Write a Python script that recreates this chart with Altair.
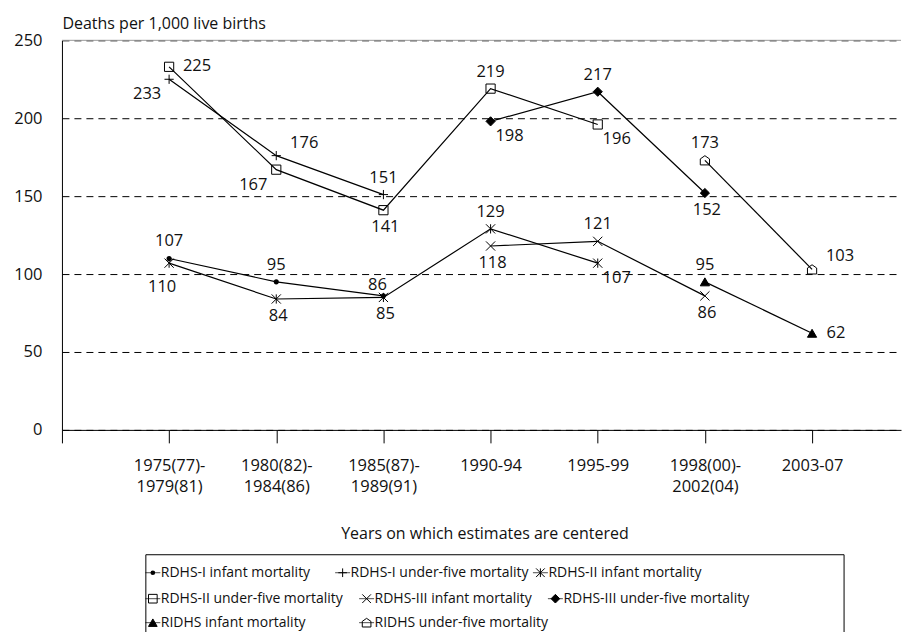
import json
import altair as alt
import pandas as pd

# ---------------- data ----------------
categories = [
    ["1975(77)-", "1979(81)"],
    ["1980(82)-", "1984(86)"],
    ["1985(87)-", "1989(91)"],
    ["1990-94"],
    ["1995-99"],
    ["1998(00)-", "2002(04)"],
    ["2003-07"],
]

series_names = [
    "RDHS-I infant mortality",
    "RDHS-I under-five mortality",
    "RDHS-II infant mortality",
    "RDHS-II under-five mortality",
    "RDHS-III infant mortality",
    "RDHS-III under-five mortality",
    "RIDHS infant mortality",
    "RIDHS under-five mortality",
]

rdhs1_infant = [110, 95, 86, None, None, None, None]
rdhs1_under5 = [225, 176, 151, None, None, None, None]
rdhs2_infant = [107, 84, 85, 129, 107, None, None]
rdhs2_under5 = [233, 167, 141, 219, 196, None, None]
rdhs3_infant = [None, None, None, 118, 121, 86, None]
rdhs3_under5 = [None, None, None, 198, 217, 152, None]
ridhs_infant = [None, None, None, None, None, 95, 62]
ridhs_under5 = [None, None, None, None, None, 173, 103]

# data labels as printed on the chart
rdhs1_infant_lbl = ["107", "95", "86", None, None, None, None]
rdhs1_under5_lbl = ["225", "176", "151", None, None, None, None]
rdhs2_infant_lbl = ["110", "84", "85", "129", "107", None, None]
rdhs2_under5_lbl = ["233", "167", "141", "219", "196", None, None]
rdhs3_infant_lbl = [None, None, None, "118", "121", "86", None]
rdhs3_under5_lbl = [None, None, None, "198", "217", "152", None]
ridhs_infant_lbl = [None, None, None, None, None, "95", "62"]
ridhs_under5_lbl = [None, None, None, None, None, "173", "103"]

# label placement keywords (annotation layout)
rdhs1_infant_pl = ["above", "above", "above_left", None, None, None, None]
rdhs1_under5_pl = ["above_right", "above_right", "above", None, None, None, None]
rdhs2_infant_pl = ["below_low", "below", "below", "above", "below_right", None, None]
rdhs2_under5_pl = ["below_left_low", "below_left", "below", "above", "below_right", None, None]
rdhs3_infant_pl = [None, None, None, "below", "above", "below", None]
rdhs3_under5_pl = [None, None, None, "below_right", "above", "below", None]
ridhs_infant_pl = [None, None, None, None, None, "above", "right"]
ridhs_under5_pl = [None, None, None, None, None, "above", "above_right"]

placements = {
    "above": (0, -17),
    "above_left": (-6, -11),
    "below": (2, 17),
    "below_low": (-7, 24),
    "above_right": (28, -13),
    "below_left": (-23, 15),
    "below_left_low": (-22, 27),
    "below_right": (19, 15),
    "right": (24, 0),
}

series_vals = [rdhs1_infant, rdhs1_under5, rdhs2_infant, rdhs2_under5,
               rdhs3_infant, rdhs3_under5, ridhs_infant, ridhs_under5]
series_lbls = [rdhs1_infant_lbl, rdhs1_under5_lbl, rdhs2_infant_lbl, rdhs2_under5_lbl,
               rdhs3_infant_lbl, rdhs3_under5_lbl, ridhs_infant_lbl, ridhs_under5_lbl]
series_pls = [rdhs1_infant_pl, rdhs1_under5_pl, rdhs2_infant_pl, rdhs2_under5_pl,
              rdhs3_infant_pl, rdhs3_under5_pl, ridhs_infant_pl, ridhs_under5_pl]

rows = []
for name, vals, lbls, pls in zip(series_names, series_vals, series_lbls, series_pls):
    for i, v in enumerate(vals):
        if v is not None:
            rows.append({"series": name, "x": i + 1, "value": v,
                         "label": lbls[i], "place": pls[i]})
df = pd.DataFrame(rows)

# marker shapes (custom paths in [-1,1])
shape_range = [
    "circle",
    "M-1,0H1M0,-1V1",
    "M-1,-1L1,1M-1,1L1,-1M0,-1V1",
    "square",
    "M-1,-1L1,1M-1,1L1,-1",
    "diamond",
    "triangle-up",
    "M0,-1L1,-0.3L1,1L-1,1L-1,-0.3Z",
]
fill_range = ["black", "transparent", "transparent", "transparent",
              "transparent", "black", "black", "transparent"]

FONT = "Open Sans"
TXT = "#111111"

label_expr = ("(datum.value >= 1 && datum.value <= 7) ? "
              + json.dumps(categories) + "[datum.value - 1] : ''")

x_enc = alt.X(
    "x:Q",
    scale=alt.Scale(domain=[0, 7.83], nice=False, zero=False),
    axis=alt.Axis(
        values=list(range(8)), labelExpr=label_expr, grid=False,
        domainColor="black", tickColor="black", tickSize=13,
        labelPadding=15, labelLineHeight=21, labelFontSize=16.5,
        labelColor=TXT, labelOverlap=False, labelFlush=False, labelBound=False,
        labelBaseline="top",
        title="Years on which estimates are centered", titleFontSize=16,
        titleFontWeight="normal", titleColor=TXT, titleX=423, titleY=104,
        titleBaseline="middle", titleAlign="center",
    ),
)
y_enc = alt.Y(
    "value:Q",
    scale=alt.Scale(domain=[0, 250], nice=False),
    axis=alt.Axis(
        values=[0, 50, 100, 150, 200, 250], ticks=False, tickSize=0,
        labelPadding=20, labelFontSize=16.5, labelColor=TXT,
        domainColor="black", grid=True, gridColor="black", gridDash=[7, 5],
        gridWidth=1,
        title="Deaths per 1,000 live births", titleAngle=0, titleAlign="left",
        titleX=0, titleY=-12, titleBaseline="alphabetic", titleFontSize=16,
        titleFontWeight="normal", titleColor=TXT,
    ),
)

base = alt.Chart(df)

top_line = alt.Chart(alt.Data(values=[{"k": 1}])).mark_rule(color="#9a9a9a", strokeWidth=1).encode(
    y=alt.datum(250)
)

lines = base.mark_line(color="black", strokeWidth=1.2).encode(
    x=x_enc, y=y_enc, detail="series:N"
)

dots = base.transform_filter(alt.datum.series == series_names[0]).mark_point(
    shape="circle", filled=True, size=26, color="black", opacity=1
).encode(x="x:Q", y="value:Q")

markers = base.transform_filter(alt.datum.series != series_names[0]).mark_point(
    size=85, strokeWidth=1, opacity=1, stroke="black"
).encode(
    x="x:Q", y="value:Q",
    shape=alt.Shape("series:N", scale=alt.Scale(domain=series_names, range=shape_range), legend=None),
    fill=alt.Fill("series:N", scale=alt.Scale(domain=series_names, range=fill_range), legend=None),
)

label_layers = []
for key, (dx, dy) in placements.items():
    label_layers.append(
        base.transform_filter(alt.datum.place == key).mark_text(
            dx=dx, dy=dy, fontSize=16.5, color=TXT, baseline="middle", align="center"
        ).encode(x="x:Q", y="value:Q", text="label:N")
    )

main = alt.layer(lines, top_line, dots, markers, *label_layers).properties(width=840, height=390)

# ---------------- legend ----------------
leg_df = pd.DataFrame({
    "series": series_names,
    "slot": list(range(len(series_names))),
    "row": [i // 3 for i in range(len(series_names))],
})
# horizontal slot positions follow the flowing legend layout of the original
lx = alt.X("slot:Q", scale=alt.Scale(domain=list(range(8)),
                                     range=[91, 281, 479, 91, 305, 494, 91, 305]), axis=None)
ly = alt.Y("row:Q", scale=alt.Scale(domain=[0, 1, 2], range=[18, 44, 68]), axis=None)
lbase = alt.Chart(leg_df)

leg_lines = lbase.mark_tick(orient="horizontal", size=15, thickness=1, color="black").encode(x=lx, y=ly)
leg_dots = lbase.transform_filter(alt.datum.series == series_names[0]).mark_point(
    shape="circle", filled=True, size=22, color="black", opacity=1
).encode(x=lx, y=ly)
leg_markers = lbase.transform_filter(alt.datum.series != series_names[0]).mark_point(
    size=75, strokeWidth=1, opacity=1, stroke="black"
).encode(
    x=lx, y=ly,
    shape=alt.Shape("series:N", scale=alt.Scale(domain=series_names, range=shape_range), legend=None),
    fill=alt.Fill("series:N", scale=alt.Scale(domain=series_names, range=fill_range), legend=None),
)
leg_text = lbase.mark_text(align="left", baseline="middle", dx=8, fontSize=14, color=TXT).encode(
    x=lx, y=ly, text="series:N"
)
frame_src = alt.Data(values=[{"k": 1}])
frame_left = alt.Chart(frame_src).mark_rule(color="black").encode(
    x=alt.value(84), y=alt.value(0), y2=alt.value(88))
frame_right = alt.Chart(frame_src).mark_rule(color="black").encode(
    x=alt.value(783), y=alt.value(0), y2=alt.value(88))
frame_top = alt.Chart(frame_src).mark_rule(color="black").encode(
    x=alt.value(84), x2=alt.value(783), y=alt.value(0))
frame_bottom = alt.Chart(frame_src).mark_rule(color="black").encode(
    x=alt.value(84), x2=alt.value(783), y=alt.value(88))

legend = alt.layer(leg_lines, leg_dots, leg_markers, leg_text,
                   frame_left, frame_right, frame_top, frame_bottom).properties(width=840, height=80)

chart = alt.vconcat(main, legend, spacing=12).resolve_scale(
    x="independent", y="independent"
).properties(
    padding={"left": 5, "top": 7, "right": 0, "bottom": 0}
).configure(font=FONT).configure_view(stroke=None)

chart.save("out.html", embed_options={"renderer": "svg", "actions": False})
